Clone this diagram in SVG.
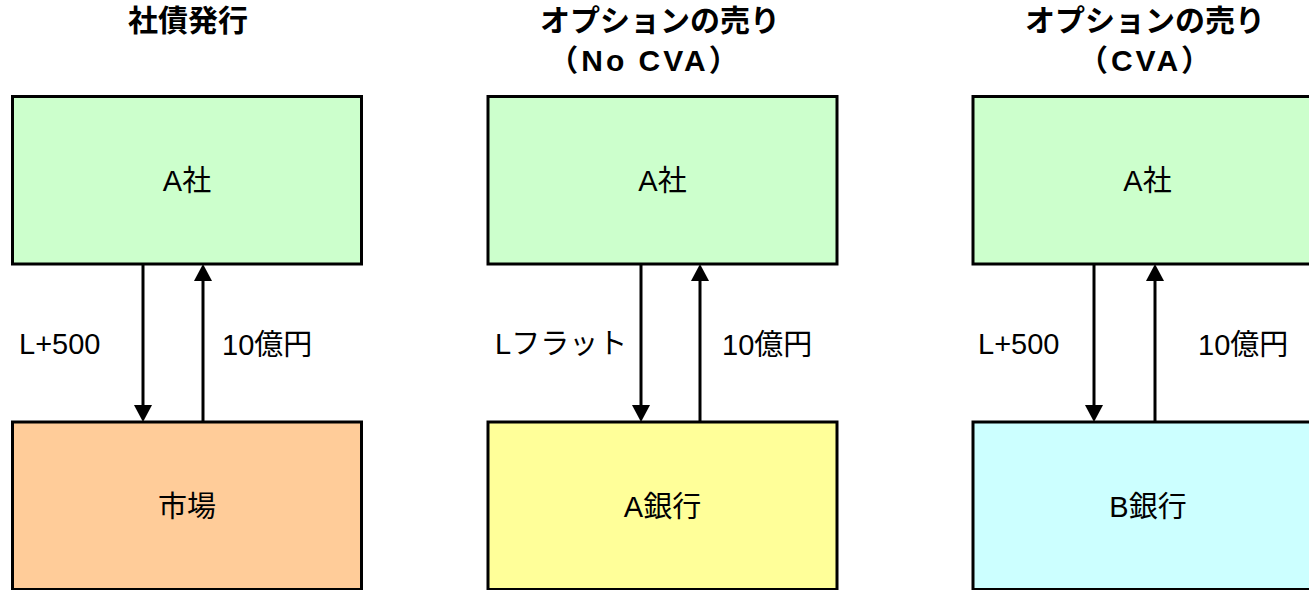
<svg xmlns="http://www.w3.org/2000/svg" width="1309" height="590" viewBox="0 0 1309 590">
<style>
  text { font-family: "Liberation Sans", "Noto Sans CJK JP", sans-serif; font-size: 29px; fill: #000; }
  .title { font-weight: bold; text-anchor: middle; font-size: 30px; }
  .sub { letter-spacing: 3px; }
  .lbl { text-anchor: middle; }
  .box { stroke: #000; stroke-width: 3; }
  .green { fill: #CCFFCC; }
  .orange { fill: #FFCC99; }
  .yellow { fill: #FFFF99; }
  .cyan { fill: #CCFFFF; }
  .conn { stroke: #000; stroke-width: 3; fill: none; marker-end: url(#ah); }
</style>
<defs>
  <marker id="ah" markerUnits="userSpaceOnUse" markerWidth="18" markerHeight="18" refX="0" refY="9" orient="auto" viewBox="0 0 18 18">
    <path d="M0,0 L17,9 L0,18 z" fill="#000"/>
  </marker>
</defs>
<rect width="1309" height="590" fill="#fff"/>

<g id="titles">
  <text class="title" x="188" y="31">社債発行</text>
  <text class="title" x="660" y="31">オプションの売り</text>
  <text class="title sub" x="645" y="71">（No CVA）</text>
  <text class="title" x="1145" y="31">オプションの売り</text>
  <text class="title sub" x="1146" y="71">（CVA）</text>
</g>

<g id="node-a1">
  <rect class="box green" x="12.5" y="96.5" width="349" height="167.5"/>
  <text class="lbl" x="187" y="191">A社</text>
</g>
<g id="node-market">
  <rect class="box orange" x="12.5" y="422" width="349" height="167.5"/>
  <text class="lbl" x="187" y="517">市場</text>
</g>

<g id="node-a2">
  <rect class="box green" x="488" y="96.5" width="349" height="167.5"/>
  <text class="lbl" x="662.5" y="191">A社</text>
</g>
<g id="node-abank">
  <rect class="box yellow" x="488" y="422" width="349" height="167.5"/>
  <text class="lbl" x="662.5" y="517">A銀行</text>
</g>

<g id="node-a3">
  <rect class="box green" x="973" y="96.5" width="349" height="167.5"/>
  <text class="lbl" x="1147.5" y="191">A社</text>
</g>
<g id="node-bbank">
  <rect class="box cyan" x="973" y="422" width="349" height="167.5"/>
  <text class="lbl" x="1148" y="517">B銀行</text>
</g>

<g id="connectors">
  <line class="conn" x1="143" y1="264" x2="143" y2="405"/>
  <line class="conn" x1="203" y1="422" x2="203" y2="281"/>
  <line class="conn" x1="641" y1="264" x2="641" y2="405"/>
  <line class="conn" x1="700" y1="422" x2="700" y2="281"/>
  <line class="conn" x1="1094" y1="264" x2="1094" y2="405"/>
  <line class="conn" x1="1155" y1="422" x2="1155" y2="281"/>
</g>

<g id="connector-labels">
  <text x="19" y="354">L+500</text>
  <text x="222" y="355">10億円</text>
  <text x="495" y="354">Lフラット</text>
  <text x="722" y="355">10億円</text>
  <text x="978" y="354">L+500</text>
  <text x="1198" y="355">10億円</text>
</g>
</svg>
